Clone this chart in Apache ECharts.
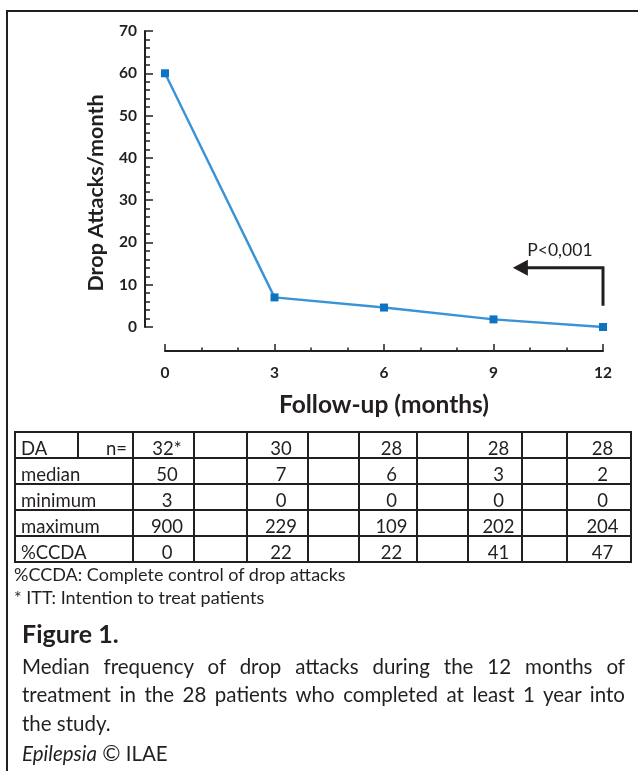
<!DOCTYPE html>
<html>
<head>
<meta charset="utf-8">
<script src="https://cdn.jsdelivr.net/npm/echarts@6/dist/echarts.min.js"></script>
<style>
  html, body { margin: 0; padding: 0; background: #fff; }
  #wrap { position: relative; width: 638px; height: 771px; overflow: hidden;
          font-family: Lato, "Open Sans", sans-serif; color: #231f20; }
  #chart { position: absolute; left: 0; top: 0; width: 638px; height: 771px; }
  #frame { position: absolute; left: 6px; top: 10px; width: 640px; height: 800px;
           border-top: 2px solid #231f20; border-left: 2px solid #231f20; }
  #stats { position: absolute; left: 14px; top: 431px; border-collapse: collapse;
           table-layout: fixed; font-size: 18.5px; }
  #stats td { border: 2px solid #231f20; height: 18px; padding: 6px 0 0 0; line-height: 18px;
              text-align: center; white-space: nowrap; overflow: hidden; }
  #stats td.lbl { text-align: left; padding-left: 5px; }
  #stats td.neq { text-align: right; padding-right: 5px; }
  #stats td.val { padding-left: 7px; }
  .note { position: absolute; left: 14px; font-size: 18px; line-height: 20px; white-space: nowrap; }
  #figno { position: absolute; left: 22px; top: 618px; font-size: 25px; font-weight: 700; line-height: 30px; }
  .cap { position: absolute; left: 22px; width: 603px; font-size: 20.5px; line-height: 24px; white-space: nowrap; }
  .just { text-align: justify; text-align-last: justify; }
</style>
</head>
<body>
<div id="wrap">
  <div id="chart"></div>
  <div id="frame"></div>
  <table id="stats"></table>
  <div class="note" style="top:564px">%CCDA: Complete control of drop attacks</div>
  <div class="note" style="top:587px">* ITT: Intention to treat patients</div>
  <div id="figno">Figure 1.</div>
  <div class="cap just" style="top:654px">Median frequency of drop attacks during the 12 months of</div>
  <div class="cap just" style="top:682px">treatment in the 28 patients who completed at least 1 year into</div>
  <div class="cap" style="top:711px">the study.</div>
  <div class="cap" style="top:741px"><i>Epilepsia</i> <span style="font-size:22px">&copy;</span> ILAE</div>
</div>
<script>
// Follow-up visits (months) and median drop attacks per month
const months = [0, 3, 6, 9, 12];
const medianAttacks = [60, 7, 4.6, 1.8, 0];

// Summary table below the plot
const rowLabels = ['median', 'minimum', 'maximum', '%CCDA'];
const patientsN = ['32*', '30', '28', '28', '28'];
const medianRow = [50, 7, 6, 3, 2];
const minimumRow = [3, 0, 0, 0, 0];
const maximumRow = [900, 229, 109, 202, 204];
const ccdaRow = [0, 22, 22, 41, 47];

// Significance annotation, in axis units
const pLabel = 'P<0,001';
const pArrow = [12, 5, 14, 9.53];   // x, y bottom, y top, x of arrow tip
const pLabelAt = [10.82, 18.2];

// ---- table ----
const colWidths = [63, 55, 61, 53, 61, 51, 58, 51, 54, 45, 64];
const table = document.getElementById('stats');
const cg = document.createElement('colgroup');
colWidths.forEach(w => { const c = document.createElement('col'); c.style.width = w + 'px'; cg.appendChild(c); });
table.appendChild(cg);
table.style.width = colWidths.reduce((a, b) => a + b, 0) + 'px';

function addRow(firstCells, values) {
  const tr = document.createElement('tr');
  firstCells.forEach(fc => {
    const td = document.createElement('td');
    td.textContent = fc.text;
    td.className = fc.cls;
    if (fc.span) td.colSpan = fc.span;
    tr.appendChild(td);
  });
  values.forEach((v, i) => {
    const td = document.createElement('td');
    td.textContent = String(v);
    td.className = 'val';
    tr.appendChild(td);
    if (i < values.length - 1) tr.appendChild(document.createElement('td'));
  });
  table.appendChild(tr);
}
addRow([{ text: 'DA', cls: 'lbl' }, { text: 'n=', cls: 'neq' }], patientsN);
[medianRow, minimumRow, maximumRow, ccdaRow].forEach((row, k) => {
  addRow([{ text: rowLabels[k], cls: 'lbl', span: 2 }], row);
});

// ---- chart ----
const ink = '#231f20';
const chart = echarts.init(document.getElementById('chart'));
chart.setOption({
  animation: false,
  grid: { left: 165, right: 35, top: 31, bottom: 444, containLabel: false },
  xAxis: {
    type: 'value', min: 0, max: 12, interval: 3, offset: 24,
    name: 'Follow-up (months)', nameLocation: 'middle', nameGap: 42,
    nameTextStyle: { fontFamily: 'Lato', fontWeight: 'bold', fontSize: 24.5, color: ink },
    axisLine: { onZero: false, lineStyle: { color: ink, width: 2 } },
    axisTick: { inside: true, length: 7, lineStyle: { color: ink, width: 1.5 } },
    minorTick: { show: true, splitNumber: 3, length: 3.5, lineStyle: { color: ink, width: 1.5 } },
    splitLine: { show: false },
    axisLabel: { margin: 14, fontFamily: 'Lato', fontWeight: 'bold', fontSize: 15.5, color: ink }
  },
  yAxis: {
    type: 'value', min: 0, max: 70, interval: 10, offset: 20,
    name: 'Drop Attacks/month', nameLocation: 'middle', nameGap: 38,
    nameTextStyle: { fontFamily: 'Lato', fontWeight: 'bold', fontSize: 21.5, color: ink, padding: [0, 28, 0, 0] },
    axisLine: { show: true, onZero: false, lineStyle: { color: ink, width: 2 } },
    axisTick: { show: true, inside: true, length: 8, lineStyle: { color: ink, width: 1.5 } },
    minorTick: { show: true, splitNumber: 5, length: 5, lineStyle: { color: ink, width: 1.5 } },
    splitLine: { show: false },
    axisLabel: { margin: 8, fontFamily: 'Lato', fontWeight: 'bold', fontSize: 15.5, color: ink }
  },
  series: [
    {
      type: 'line',
      data: months.map((m, i) => [m, medianAttacks[i]]),
      symbol: 'rect', symbolSize: 8,
      itemStyle: { color: '#0d74c2' },
      lineStyle: { color: '#3a93d6', width: 2.4 },
      clip: false, z: 3
    },
    {
      type: 'custom',
      clip: false,
      data: [pArrow.concat(pLabelAt)],
      renderItem: function (params, api) {
        const bottom = api.coord([api.value(0), api.value(1)]);
        const corner = api.coord([api.value(0), api.value(2)]);
        const tip = api.coord([api.value(3), api.value(2)]);
        const lab = api.coord([api.value(4), api.value(5)]);
        const headLen = 15, headHalf = 8;
        return {
          type: 'group',
          children: [
            { type: 'polyline',
              shape: { points: [bottom, corner, [tip[0] + headLen - 1, corner[1]]] },
              style: { stroke: ink, lineWidth: 3, fill: null, lineJoin: 'miter' } },
            { type: 'polygon',
              shape: { points: [tip, [tip[0] + headLen, tip[1] - headHalf], [tip[0] + headLen, tip[1] + headHalf]] },
              style: { fill: ink } },
            { type: 'text',
              style: { text: pLabel, x: lab[0], y: lab[1], align: 'center', verticalAlign: 'middle',
                       fontFamily: 'Lato', fontSize: 17.5, fill: ink } }
          ]
        };
      }
    }
  ]
});
</script>
</body>
</html>
